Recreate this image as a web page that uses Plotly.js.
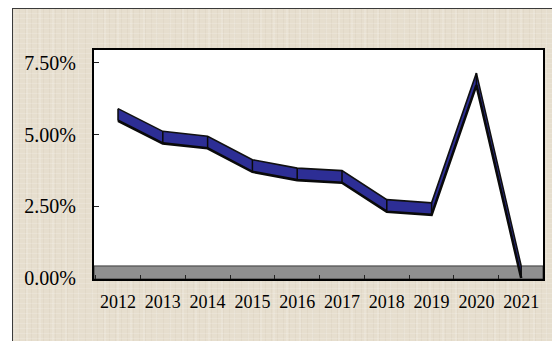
<!DOCTYPE html>
<html>
<head>
<meta charset="utf-8">
<script src="https://cdn.plot.ly/plotly-3.0.1.min.js"></script>
<style>
  html, body { margin:0; padding:0; background:#ffffff; width:552px; height:341px; overflow:hidden; }
  #frame {
    position:absolute; left:12px; top:8px; width:560px; height:360px;
    border-left:1px solid #3a3a3a; border-top:1px solid #3a3a3a;
    background-color:#e6dece;
    background-image:
      repeating-linear-gradient(0deg, rgba(255,255,255,0.16) 0px, rgba(255,255,255,0.16) 1px, transparent 1px, transparent 5px),
      repeating-linear-gradient(90deg, rgba(140,120,90,0.06) 0px, rgba(140,120,90,0.06) 1px, transparent 1px, transparent 6px),
      repeating-linear-gradient(90deg, rgba(255,255,255,0.14) 0px, rgba(255,255,255,0.14) 2px, transparent 2px, transparent 13px);
  }
  #chart { position:absolute; left:0; top:0; width:552px; height:341px; }
</style>
</head>
<body>
<div id="frame"></div>
<div id="chart"></div>
<script>
// Data (percent)
const years = ["2012","2013","2014","2015","2016","2017","2018","2019","2020","2021"];
const rates = [5.48, 4.69, 4.52, 3.70, 3.41, 3.32, 2.31, 2.20, 6.72, 0.00];
const yTicks = [0, 2.5, 5, 7.5];
const yTickLabels = ["0.00%", "2.50%", "5.00%", "7.50%"];

// visual depth of the 3-D ribbon (style constant, in axis units)
const depth = 0.42;

const backEdge = {
  x: years,
  y: rates.map(v => v + depth),
  type: "scatter",
  mode: "lines",
  line: { color: "#111111", width: 1.6 },
  hoverinfo: "skip",
  showlegend: false
};

const frontEdge = {
  x: years,
  y: rates,
  type: "scatter",
  mode: "lines",
  fill: "tonexty",
  fillcolor: "#2d2e95",
  line: { color: "#0a0a0a", width: 2.6 },
  error_y: {
    type: "data",
    symmetric: false,
    array: rates.map(() => depth),
    arrayminus: rates.map(() => 0),
    width: 0,
    thickness: 1.5,
    color: "#0a0a0a"
  },
  showlegend: false
};

const layout = {
  width: 552,
  height: 341,
  margin: { l: 94, r: 9, t: 50, b: 62 },
  paper_bgcolor: "rgba(0,0,0,0)",
  plot_bgcolor: "#ffffff",
  showlegend: false,
  font: { family: "Liberation Serif, Times New Roman, serif", color: "#000000" },
  xaxis: {
    type: "category",
    range: [-0.536, 9.487],
    tickson: "boundaries",
    ticks: "inside",
    ticklen: 4,
    tickwidth: 1,
    tickcolor: "#222222",
    tickangle: 0,
    showgrid: false,
    zeroline: false,
    showline: true,
    linecolor: "#000000",
    linewidth: 2,
    mirror: true,
    tickfont: { size: 18, family: "Liberation Serif, Times New Roman, serif", color: "#000000" },
    ticklabelstandoff: 5
  },
  yaxis: {
    range: [-0.0348, 7.944],
    tickvals: yTicks,
    ticktext: yTickLabels,
    ticks: "inside",
    ticklen: 5,
    tickwidth: 1,
    tickcolor: "#222222",
    showgrid: false,
    zeroline: false,
    showline: true,
    linecolor: "#000000",
    linewidth: 2,
    mirror: true,
    tickfont: { size: 20, family: "Liberation Serif, Times New Roman, serif", color: "#000000" },
    ticklabelstandoff: 12
  },
  shapes: [
    {
      type: "rect", layer: "below",
      xref: "paper", yref: "y",
      x0: 0, x1: 1, y0: -0.0348, y1: depth,
      fillcolor: "#8f8f8f",
      line: { color: "#3a3a3a", width: 1 }
    }
  ]
};

Plotly.newPlot("chart", [backEdge, frontEdge], layout, { displayModeBar: false, staticPlot: true });
</script>
</body>
</html>
